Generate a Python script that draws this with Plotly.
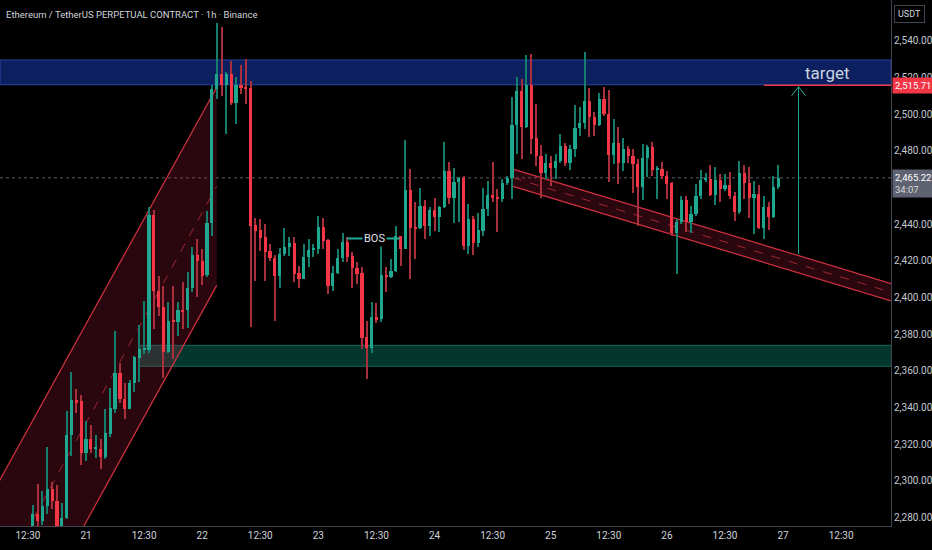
import pandas as pd
import plotly.graph_objects as go

#%% ETHUSDT.P 1h candles, first bar opens on the 20th at 13:30
first_bar = pd.Timestamp("2025-05-20 13:30")

opens = [
    2272, 2281.7, 2278.1, 2286.2, 2295.7, 2289.3, 2273, 2279.5, 2325.2, 2343.9,
    2343.3, 2315.0, 2322.7, 2317.4, 2317.6, 2313.0, 2325.4, 2339.4, 2358.7, 2344.8,
    2339.4, 2353.2, 2367.0, 2371.8, 2371.5, 2445, 2403.6, 2394.6, 2370.3, 2387.7,
    2386.7, 2393, 2393, 2405, 2423.1, 2420, 2412.2, 2440.6, 2513.8, 2522,
    2516, 2522, 2506.1, 2515.6, 2514.7, 2514.3, 2439.7, 2436.8, 2432.8, 2425.5,
    2421.5, 2411.8, 2423.7, 2427.3, 2429.8, 2413.3, 2410.2, 2422.2, 2426, 2426.6,
    2438.6, 2431.2, 2406.4, 2413.3, 2421.5, 2430, 2422.4, 2416, 2413.3, 2378.2,
    2372.3, 2389.1, 2388.2, 2412.4, 2411.1, 2414.6, 2433.3, 2426.6, 2458.6, 2438.3,
    2437.7, 2450, 2439.1, 2447.9, 2443.7, 2449.2, 2469.2, 2454.1, 2462.8, 2465.0,
    2428.2, 2442.8, 2429.8, 2436.4, 2448, 2455.9, 2454.3, 2453.7, 2462.5, 2465.2,
    2493.8, 2512.5, 2492.9, 2515.6, 2487.0, 2477.4, 2467.9, 2473.4, 2470.5, 2474.6,
    2482.8, 2473.4, 2481, 2492.5, 2495.2, 2507.4, 2498.3, 2494.1, 2508, 2500.1,
    2477.7, 2484.3, 2473.4, 2481, 2477.4, 2472.8, 2460.1, 2476.1, 2482, 2469.7,
    2470.1, 2466.4, 2462.5, 2435.2, 2441, 2453.2, 2441.3, 2445.5, 2455.2, 2464.3,
    2464.6, 2455.9, 2464.3, 2459.2, 2461.2, 2455.5, 2446.8, 2467.9, 2462.5, 2454.1,
    2456.4, 2437.9, 2449.5, 2443.7, 2460.1,
]
highs = [
    2287, 2298.1, 2294.4, 2318.7, 2299.3, 2297.5, 2288.2, 2338.1, 2359.6, 2350.3,
    2346.7, 2332.6, 2330.3, 2324.8, 2322.7, 2339.4, 2350.9, 2381.5, 2364.1, 2353.6,
    2355, 2368, 2384.9, 2398.2, 2449.2, 2447.5, 2411.8, 2406.4, 2397.3, 2406.4,
    2397.3, 2408.2, 2413.7, 2427.3, 2431.9, 2426.4, 2447.3, 2515.6, 2549.8, 2547.5,
    2522.9, 2528.7, 2520, 2526.9, 2530.2, 2518.3, 2443.2, 2443, 2440, 2429.2,
    2423, 2426.8, 2437.7, 2432.8, 2432.8, 2417.3, 2429.2, 2431.9, 2429.2, 2444.6,
    2443.2, 2431.9, 2417, 2426.4, 2435, 2432.8, 2424.6, 2419.1, 2416.4, 2387.3,
    2397.3, 2396.9, 2428.6, 2416.4, 2421, 2438.8, 2433.5, 2485.6, 2470.1, 2451.9,
    2459.6, 2453.3, 2449.5, 2454.1, 2449.8, 2485, 2474.1, 2470.5, 2465.5, 2466.4,
    2451, 2444.6, 2446.1, 2459.6, 2463.7, 2474.1, 2459.2, 2464.6, 2466, 2509.3,
    2520.2, 2519.2, 2532.4, 2532.9, 2505.6, 2483.2, 2478.3, 2477.4, 2478.3, 2489.2,
    2484.3, 2483.2, 2505, 2503.8, 2533.8, 2514.2, 2501.3, 2511.6, 2514.7, 2512.9,
    2497.4, 2492.9, 2486.9, 2482.8, 2481, 2475.6, 2483.8, 2483.2, 2485, 2471.5,
    2474.1, 2469.2, 2463.2, 2443, 2455.5, 2455.5, 2450, 2461.9, 2469.7, 2467.9,
    2472.3, 2471, 2467.4, 2467.4, 2468.6, 2457.3, 2474.6, 2472.3, 2471, 2463.7,
    2461.4, 2455.5, 2451.9, 2466.4, 2472.3,
]
lows = [
    2268, 2274, 2276.2, 2281.7, 2284.4, 2266, 2270, 2279, 2313.5, 2337.2,
    2308.4, 2310.8, 2315.4, 2312.7, 2306.3, 2312.1, 2324.1, 2337.2, 2342.3, 2333.9,
    2339, 2348.7, 2354, 2369, 2370, 2382.7, 2390, 2356.3, 2369.5, 2366.3,
    2379.1, 2382.7, 2383.6, 2402.8, 2400, 2406.7, 2411, 2433.7, 2508.3, 2509.8,
    2489.2, 2505, 2494.7, 2511.1, 2505.6, 2384, 2409.1, 2425.5, 2409.1, 2420,
    2387.3, 2404.9, 2422.8, 2422.8, 2408.2, 2405.4, 2410, 2416.4, 2422.2, 2423.7,
    2426.4, 2401.8, 2403.6, 2412.8, 2419.1, 2419.4, 2405.4, 2407.5, 2371.8, 2355.8,
    2370, 2386, 2386.4, 2403.1, 2410.5, 2414, 2417.3, 2426.2, 2410, 2421,
    2437.5, 2431.9, 2433.7, 2436.4, 2435.5, 2448.6, 2451, 2440.6, 2441.3, 2426,
    2423.7, 2423.1, 2427.3, 2433.4, 2444.3, 2451.9, 2435.5, 2451.9, 2461.5, 2453.7,
    2478.3, 2475.6, 2492.5, 2478.3, 2471.9, 2454.1, 2464.6, 2461, 2464.6, 2473.5,
    2471.9, 2469.7, 2476.5, 2488.3, 2492, 2487.4, 2488.3, 2493.5, 2499.2, 2463.2,
    2472.8, 2461.9, 2469.2, 2473.4, 2457, 2438.8, 2453.3, 2465.6, 2466.4, 2453.7,
    2464.6, 2453.7, 2433.7, 2412.8, 2439.8, 2435.9, 2435.2, 2444.6, 2453.7, 2462.8,
    2455.5, 2450.4, 2452.2, 2458, 2453.7, 2441.9, 2445.3, 2453.7, 2443.2, 2434.6,
    2437.5, 2431.9, 2437, 2443.3, 2459,
]
closes = [
    2281.7, 2278.1, 2286.2, 2295.7, 2289.0, 2272, 2280, 2325.2, 2343.9, 2343.0,
    2315.0, 2322.7, 2317.2, 2317.6, 2313.0, 2325.9, 2339.7, 2358.7, 2344.5, 2339.4,
    2353.2, 2367.4, 2371.8, 2372.2, 2445.0, 2403.6, 2394.6, 2370.3, 2387.3, 2386.7,
    2393, 2392.4, 2405, 2423.1, 2419.7, 2411.8, 2440.6, 2513.8, 2522, 2516,
    2522, 2506.1, 2515.6, 2514.3, 2513.8, 2439.1, 2436.4, 2432.3, 2425.0, 2421.3,
    2411.8, 2423.7, 2427.3, 2429.8, 2412.8, 2410.2, 2422.2, 2426, 2426.6, 2438.6,
    2431, 2406.4, 2413.3, 2421.5, 2430, 2422.2, 2416, 2412.8, 2377.8, 2372.3,
    2389.1, 2387.8, 2412.4, 2411.1, 2414.6, 2433.4, 2426.6, 2458.6, 2437.9, 2437.7,
    2450, 2439.1, 2447.9, 2443.7, 2449.5, 2469.2, 2454.1, 2462.8, 2465.0, 2428.2,
    2442.8, 2429.8, 2437.0, 2448.3, 2455.9, 2454.1, 2453.7, 2462.5, 2465.2, 2493.8,
    2512.5, 2492.9, 2515.6, 2486.5, 2477.0, 2467.9, 2473.4, 2470.5, 2474.6, 2482.8,
    2473.4, 2481, 2492.5, 2495.2, 2507.4, 2498.3, 2494.1, 2508, 2500.1, 2477.7,
    2484.3, 2473.4, 2481, 2477, 2472.8, 2460.1, 2476.1, 2482, 2469.7, 2470.1,
    2466.1, 2461.9, 2435.2, 2441.0, 2453.2, 2441.3, 2445.5, 2455.2, 2464.3, 2465.0,
    2455.9, 2464.3, 2459.2, 2461.2, 2455.2, 2446.8, 2467.9, 2462.5, 2454.1, 2456.4,
    2437.9, 2449.5, 2443.7, 2460.1, 2465.22,
]
times = pd.date_range(first_bar, periods=len(opens), freq="h")

#%% axis ticks, hours counted from the "21" tick (21st 00:30)
day21 = pd.Timestamp("2025-05-21 00:30")
tick_hours = list(range(-12, 157, 12))
tick_text = ["12:30", "21", "12:30", "22", "12:30", "23", "12:30", "24",
             "12:30", "25", "12:30", "26", "12:30", "27", "12:30"]
# 2,460 sits under the last-price box, so it is not drawn
price_ticks = [p for p in range(2280, 2541, 20) if p != 2460]

#%% drawings on the chart (hours from day21, prices)
supply_zone = [2516.0, 2529.5]
demand_zone = [2362.5, 2373.9]
demand_from = 10.9
asc_hours = [-20, 27]
asc_upper = [2289.9, 2514.6]
asc_lower = [2181.9, 2406.6]
desc_hours = [88.2, 172]
desc_upper = [2470.0, 2403.0]
desc_lower = [2460.6, 2393.6]
bos_hours = [53.9, 64.8]
bos_price = 2432.2
target_price = 2515.71
target_from = 140.1
arrow_hour = 147.2
arrow_prices = [2423.7, 2514.9]
last_price = 2465.22
view_hours = [-17.77, 166.3]
view_prices = [2275.4, 2562.2]

UP, DOWN = "#1fa78f", "#f23645"
UP_WICK, DOWN_WICK = "#157d6b", "#a8303c"
CH_RED = "#d2323f"
TEAL = "#22ab94"
HOUR_MS = 3600 * 1000


def at(h):
    return day21 + pd.Timedelta(hours=h)


def pt(h):
    # plotly wants underscores in date path coordinates
    return at(h).strftime("%Y-%m-%d_%H:%M:%S")


rising = [c >= o for o, c in zip(opens, closes)]
body_low = [min(o, c) for o, c in zip(opens, closes)]
body_len = [max(abs(c - o), 0.7) for o, c in zip(opens, closes)]
wick_len = [h - l for h, l in zip(highs, lows)]

fig = go.Figure()
fig.add_trace(go.Bar(
    x=times, base=lows, y=wick_len, width=0.22 * HOUR_MS,
    marker=dict(color=[UP_WICK if r else DOWN_WICK for r in rising], line_width=0),
    hoverinfo="skip"))
fig.add_trace(go.Bar(
    x=times, base=body_low, y=body_len, width=0.66 * HOUR_MS,
    marker=dict(color=[UP if r else DOWN for r in rising], line_width=0),
    hoverinfo="skip"))

shapes = []
# zones
shapes.append(dict(type="rect", xref="paper", x0=0, x1=1, yref="y",
                   y0=supply_zone[0], y1=supply_zone[1], layer="below",
                   fillcolor="#0c1f5e", line=dict(color="#2444a8", width=1)))
shapes.append(dict(type="rect", xref="x", yref="y", x0=at(demand_from), x1=at(view_hours[1] + 5),
                   y0=demand_zone[0], y1=demand_zone[1], layer="below",
                   fillcolor="rgba(8,150,125,0.36)", line=dict(color="#0c6f5b", width=1)))

# channels
for hrs, up, lo in [(asc_hours, asc_upper, asc_lower), (desc_hours, desc_upper, desc_lower)]:
    path = (f"M {pt(hrs[0])},{up[0]} L {pt(hrs[1])},{up[1]} "
            f"L {pt(hrs[1])},{lo[1]} L {pt(hrs[0])},{lo[0]} Z")
    shapes.append(dict(type="path", path=path, xref="x", yref="y", layer="below",
                       fillcolor="rgba(190,30,70,0.22)", line=dict(width=0)))
    for edge in (up, lo):
        shapes.append(dict(type="line", xref="x", yref="y", x0=at(hrs[0]), x1=at(hrs[1]),
                           y0=edge[0], y1=edge[1], layer="below",
                           line=dict(color=CH_RED, width=1.2)))
    shapes.append(dict(type="line", xref="x", yref="y", x0=at(hrs[0]), x1=at(hrs[1]),
                       y0=(up[0] + lo[0]) / 2, y1=(up[1] + lo[1]) / 2, layer="below",
                       line=dict(color="rgba(210,50,63,0.7)", width=1, dash="dash")))

# last price dotted line
shapes.append(dict(type="line", xref="paper", x0=0, x1=1, yref="y", y0=last_price, y1=last_price,
                   layer="below", line=dict(color="#5d606b", width=1, dash="dot")))
# target level
shapes.append(dict(type="line", xref="x", yref="y", x0=at(target_from), x1=at(view_hours[1] + 5),
                   y0=target_price, y1=target_price, line=dict(color=DOWN, width=1.5)))
# arrow
shapes.append(dict(type="line", xref="x", yref="y", x0=at(arrow_hour), x1=at(arrow_hour),
                   y0=arrow_prices[0], y1=arrow_prices[1], line=dict(color=TEAL, width=1)))
shapes.append(dict(type="path", xref="x", yref="y", xsizemode="pixel", ysizemode="pixel",
                   xanchor=str(at(arrow_hour)), yanchor=arrow_prices[1],
                   path="M -7,-9 L 0,0 L 7,-9", line=dict(color=TEAL, width=1)))
# BOS
shapes.append(dict(type="line", xref="x", yref="y", x0=at(bos_hours[0]), x1=at(bos_hours[1]),
                   y0=bos_price, y1=bos_price, line=dict(color=TEAL, width=2)))

annotations = [
    dict(text="BOS", x=at(sum(bos_hours) / 2 + 0.2), y=bos_price, xref="x", yref="y",
         showarrow=False, bgcolor="#000000", borderpad=1,
         font=dict(color="#e0e3eb", size=11)),
    dict(text="target", x=at(153.1), y=2522.3, xref="x", yref="y", showarrow=False,
         font=dict(color="#c9d3df", size=17)),
    dict(text="Ethereum / TetherUS PERPETUAL CONTRACT · 1h · Binance", xref="paper", yref="paper",
         x=0, y=1, xanchor="left", yanchor="top", xshift=4, yshift=-7, showarrow=False,
         font=dict(color="#d1d4dc", size=9.5)),
    dict(text="USDT", xref="paper", yref="paper", x=1, y=1, xanchor="left", yanchor="top",
         xshift=3, yshift=-5, showarrow=False, bordercolor="#434651", borderwidth=1, borderpad=3,
         font=dict(color="#d1d4dc", size=9)),
    dict(text=f"{target_price:,.2f}", xref="paper", yref="y", x=1, y=target_price,
         xanchor="left", showarrow=False, bgcolor=DOWN, borderpad=2, xshift=1,
         font=dict(color="#ffffff", size=9.5)),
    dict(text=f"{last_price:,.2f}<br><span style='color:#d8d8d8'>34:07</span>", xref="paper", yref="y",
         x=1, y=last_price, xanchor="left", yanchor="top", yshift=9, align="left",
         showarrow=False, bgcolor="#5f6270", borderpad=2, xshift=1,
         font=dict(color="#ffffff", size=9.5)),
]

fig.update_layout(
    width=932, height=550,
    margin=dict(l=0, r=41, t=0, b=24),
    paper_bgcolor="#000000", plot_bgcolor="#000000",
    font=dict(family="Roboto", color="#d1d4dc"),
    barmode="overlay", bargap=0, showlegend=False,
    shapes=shapes, annotations=annotations,
    xaxis=dict(type="date", range=[at(view_hours[0]), at(view_hours[1])],
               tickvals=[at(h) for h in tick_hours], ticktext=tick_text, automargin=False,
               showgrid=False, zeroline=False, showline=True, linecolor="#434651",
               ticks="", tickfont=dict(size=10, color="#d1d4dc")),
    yaxis=dict(side="right", range=view_prices, tickvals=price_ticks, tickformat=",.2f",
               automargin=False, showgrid=False, zeroline=False, showline=True,
               linecolor="#434651", ticks="", tickfont=dict(size=10, color="#c5c8d0")),
)

# page body margin would shift the chart by 8px
fig.write_html("out.html", config={"displayModeBar": False},
               post_script="document.body.style.margin='0';")
